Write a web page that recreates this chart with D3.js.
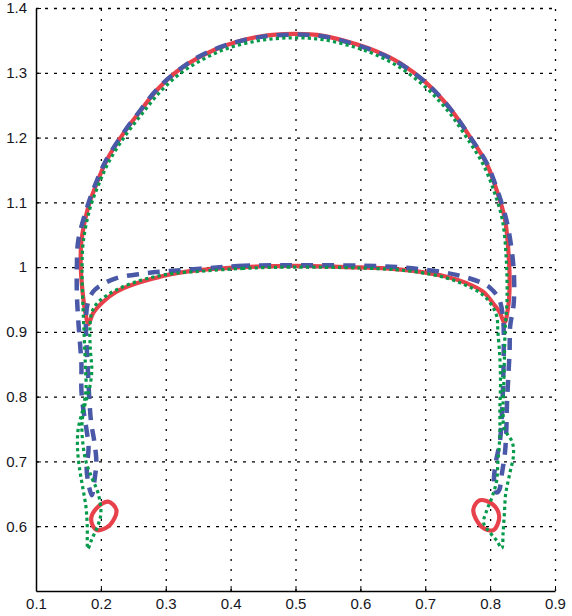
<!DOCTYPE html>
<html>
<head>
<meta charset="utf-8">
<script src="https://cdn.jsdelivr.net/npm/d3@7"></script>
<style>
  body { margin: 0; background: #fff; }
  svg { display: block; }
  .tick text { font-family: "Liberation Sans", Arial, sans-serif; font-size: 15px; fill: #161622; }
</style>
</head>
<body>
<script>
// tick values
var xTicks = [0.1, 0.2, 0.3, 0.4, 0.5, 0.6, 0.7, 0.8, 0.9];
var yTicks = [0.6, 0.7, 0.8, 0.9, 1.0, 1.1, 1.2, 1.3, 1.4];

// red solid: bubble (dome + floor, closed)
var redBubble = [
  [0.181, 0.912], [0.176, 0.93], [0.172, 0.96], [0.169, 1.0], [0.170, 1.04],
  [0.1806, 1.093], [0.1935, 1.129], [0.209, 1.165], [0.2345, 1.206], [0.260, 1.240],
  [0.286, 1.273], [0.317, 1.302], [0.353, 1.325], [0.394, 1.343], [0.445, 1.356],
  [0.497, 1.360], [0.543, 1.357], [0.594, 1.344], [0.625, 1.333], [0.661, 1.315],
  [0.702, 1.284], [0.738, 1.245], [0.769, 1.201], [0.7945, 1.160], [0.810, 1.119],
  [0.823, 1.073], [0.829, 1.011], [0.830, 0.97], [0.828, 0.94], [0.822, 0.914],
  [0.815, 0.93], [0.807, 0.941], [0.789, 0.962], [0.764, 0.975], [0.733, 0.985],
  [0.69, 0.993], [0.64, 0.998], [0.58, 1.0], [0.5, 1.002], [0.42, 1.0],
  [0.36, 0.996], [0.319, 0.991], [0.291, 0.985], [0.255, 0.975], [0.224, 0.962],
  [0.204, 0.947], [0.188, 0.929]
];
// red solid: the two small drops
var redDropLeft = [
  [0.2114, 0.638], [0.224, 0.625], [0.214, 0.602], [0.1935, 0.594], [0.185, 0.610], [0.1935, 0.628]
];
var redDropRight = [
  [0.784, 0.640], [0.774, 0.625], [0.787, 0.599], [0.805, 0.594], [0.814, 0.614], [0.805, 0.633]
];

// blue dashed: bubble with two threads (closed)
var blueBubble = [
  [0.5, 1.003], [0.42, 1.002], [0.36, 0.998], [0.306, 0.994], [0.265, 0.990],
  [0.224, 0.983], [0.200, 0.972], [0.188, 0.962], [0.180, 0.945],
  [0.177, 0.92], [0.178, 0.88], [0.180, 0.84], [0.182, 0.80], [0.185, 0.76],
  [0.19, 0.73], [0.193, 0.70], [0.19, 0.67], [0.186, 0.648],
  [0.181, 0.665], [0.178, 0.69], [0.181, 0.72], [0.177, 0.755], [0.173, 0.78],
  [0.170, 0.81], [0.170, 0.85], [0.168, 0.88], [0.165, 0.92], [0.163, 0.96],
  [0.163, 1.0], [0.165, 1.04],
  [0.179, 1.093], [0.192, 1.129], [0.208, 1.165], [0.234, 1.206], [0.26, 1.241],
  [0.286, 1.274], [0.317, 1.302], [0.353, 1.326], [0.394, 1.343], [0.445, 1.355],
  [0.497, 1.359], [0.543, 1.356], [0.594, 1.343], [0.625, 1.332], [0.661, 1.314],
  [0.702, 1.284], [0.738, 1.245], [0.769, 1.201], [0.795, 1.160], [0.811, 1.119],
  [0.825, 1.073], [0.834, 1.02], [0.837, 0.98], [0.836, 0.94],
  [0.831, 0.91], [0.83, 0.87], [0.828, 0.83], [0.826, 0.79], [0.825, 0.75],
  [0.823, 0.715], [0.818, 0.68], [0.814, 0.656], [0.81, 0.652],
  [0.806, 0.67], [0.809, 0.70], [0.815, 0.73], [0.818, 0.77], [0.82, 0.82],
  [0.821, 0.87], [0.82, 0.92], [0.814, 0.95], [0.800, 0.968], [0.784, 0.977],
  [0.748, 0.988], [0.70, 0.996], [0.64, 1.001]
];

// green dotted: bubble with two threads (closed)
var greenBubble = [
  [0.5, 1.0], [0.42, 0.998], [0.36, 0.994], [0.31, 0.99], [0.27, 0.982],
  [0.235, 0.97], [0.21, 0.957], [0.195, 0.945], [0.186, 0.93],
  [0.183, 0.9], [0.184, 0.87], [0.186, 0.84], [0.182, 0.81], [0.176, 0.79],
  [0.171, 0.76], [0.172, 0.73], [0.177, 0.70], [0.186, 0.675], [0.196, 0.65],
  [0.2, 0.62], [0.195, 0.6], [0.186, 0.58], [0.18, 0.565],
  [0.179, 0.6], [0.177, 0.63], [0.172, 0.66], [0.167, 0.69], [0.164, 0.72],
  [0.165, 0.75], [0.172, 0.78], [0.177, 0.81], [0.176, 0.85], [0.174, 0.9],
  [0.172, 0.95], [0.171, 1.0], [0.173, 1.04],
  [0.183, 1.09], [0.196, 1.126], [0.212, 1.162], [0.237, 1.202], [0.263, 1.236],
  [0.289, 1.268], [0.32, 1.297], [0.356, 1.32], [0.396, 1.338], [0.446, 1.35],
  [0.497, 1.354], [0.543, 1.351], [0.593, 1.339], [0.623, 1.328], [0.658, 1.31],
  [0.699, 1.279], [0.735, 1.241], [0.765, 1.198], [0.79, 1.157], [0.806, 1.117],
  [0.819, 1.072], [0.825, 1.01], [0.826, 0.95],
  [0.823, 0.9], [0.822, 0.86], [0.821, 0.82], [0.82, 0.78], [0.822, 0.75],
  [0.834, 0.73], [0.836, 0.71], [0.83, 0.68], [0.824, 0.65], [0.822, 0.62],
  [0.82, 0.59], [0.818, 0.566],
  [0.81, 0.578], [0.8, 0.59], [0.79, 0.605], [0.795, 0.625], [0.803, 0.645],
  [0.81, 0.67], [0.812, 0.70], [0.815, 0.74], [0.815, 0.78], [0.816, 0.82],
  [0.815, 0.86], [0.812, 0.9], [0.81, 0.925],
  [0.80, 0.945], [0.785, 0.96], [0.76, 0.973], [0.73, 0.984], [0.69, 0.992], [0.64, 0.997]
];

var width = 572,
    height = 616;

var margin = {top: 8, right: 17, bottom: 25, left: 36};
var w = width - margin.left - margin.right,
    h = height - margin.top - margin.bottom;

var svg = d3.select("body").append("svg")
    .attr("width", width)
    .attr("height", height);

var g = svg.append("g")
    .attr("transform", "translate(" + margin.left + "," + margin.top + ")");

var x = d3.scaleLinear().domain([0.1, 0.9]).range([0, w]);
var y = d3.scaleLinear().domain([0.5, 1.4]).range([h, 0]);

// dotted grid
g.append("g")
    .attr("class", "grid")
    .attr("transform", "translate(0," + h + ")")
    .call(d3.axisBottom(x).tickValues(xTicks.slice(1)).tickSize(-h).tickFormat(""))
    .call(function (s) {
        s.select(".domain").remove();
        s.selectAll("line").attr("stroke", "#000").attr("stroke-width", 1.3).attr("stroke-dasharray", "2,8");
    });

g.append("g")
    .attr("class", "grid")
    .call(d3.axisLeft(y).tickValues(yTicks).tickSize(-w).tickFormat(""))
    .call(function (s) {
        s.select(".domain").remove();
        s.selectAll("line").attr("stroke", "#000").attr("stroke-width", 1.3).attr("stroke-dasharray", "3,6");
    });

// curves
var line = d3.line()
    .x(function (d) { return x(d[0]); })
    .y(function (d) { return y(d[1]); })
    .curve(d3.curveCatmullRomClosed.alpha(0.5));

var red = "#e8414b", blue = "#4a58a8", green = "#05994a";

[redBubble, redDropLeft, redDropRight].forEach(function (pts) {
    g.append("path")
        .attr("d", line(pts))
        .attr("fill", "none")
        .attr("stroke", red)
        .attr("stroke-width", 4.2);
});

g.append("path")
    .attr("d", line(blueBubble))
    .attr("fill", "none")
    .attr("stroke", blue)
    .attr("stroke-width", 4.5)
    .attr("stroke-dasharray", "12,9");

g.append("path")
    .attr("d", line(greenBubble))
    .attr("fill", "none")
    .attr("stroke", green)
    .attr("stroke-width", 3.2)
    .attr("stroke-dasharray", "3.2,3.2");

// axes
g.append("g")
    .attr("transform", "translate(0," + h + ")")
    .call(d3.axisBottom(x).tickValues(xTicks).tickSizeInner(-5).tickSizeOuter(0).tickPadding(7)
        .tickFormat(d3.format("")))
    .call(function (s) {
        s.select(".domain").attr("stroke", "#000").attr("stroke-width", 1.5);
    });

g.append("g")
    .call(d3.axisLeft(y).tickValues(yTicks).tickSizeInner(-5).tickSizeOuter(0).tickPadding(9)
        .tickFormat(d3.format("")))
    .call(function (s) {
        s.select(".domain").attr("stroke", "#000").attr("stroke-width", 1.5);
    });
</script>
</body>
</html>
